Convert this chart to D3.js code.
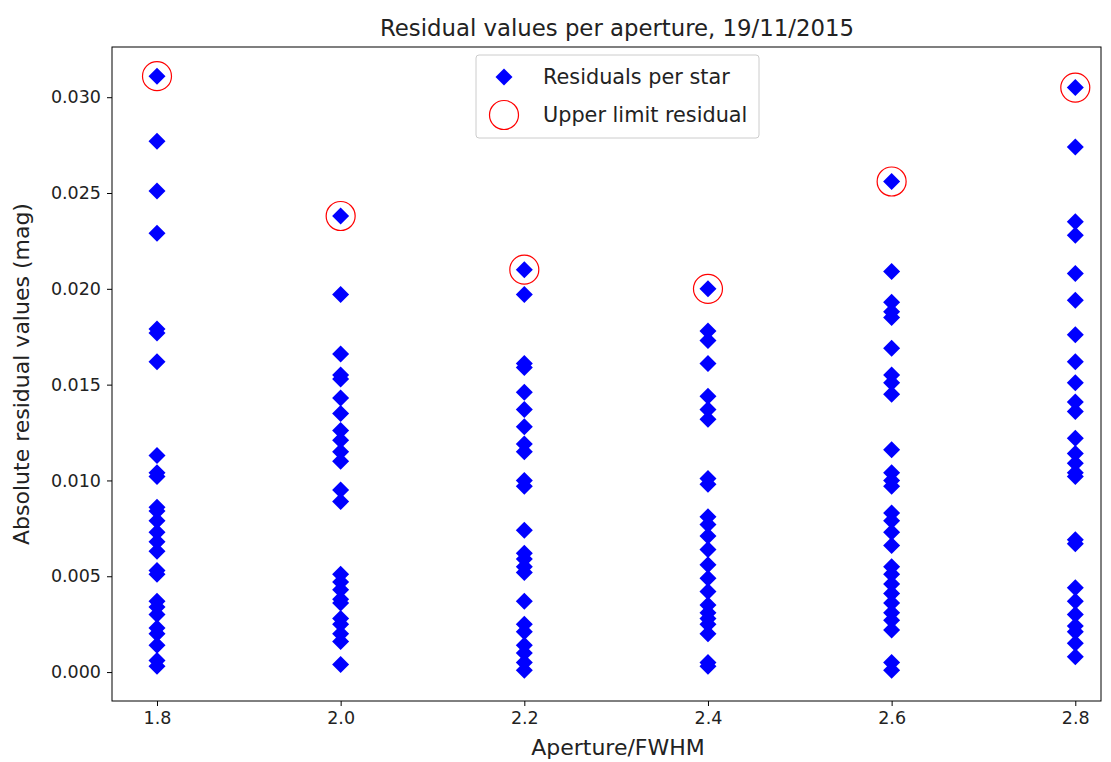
<!DOCTYPE html>
<html>
<head>
<meta charset="utf-8">
<script src="https://cdn.jsdelivr.net/npm/d3@7"></script>
<style>
  body { margin: 0; background: #fff; }
  svg { font-family: "DejaVu Sans", sans-serif; }
</style>
</head>
<body>
<svg id="chart" width="1111" height="762"></svg>
<script>
// apertures (x) and absolute residuals per star for each
const apertures = [1.8, 2.0, 2.2, 2.4, 2.6, 2.8];
const res18 = [0.0311, 0.0277, 0.0251, 0.0229, 0.0179, 0.0177, 0.0162, 0.0113, 0.0104, 0.0102, 0.0086, 0.0084, 0.0079, 0.0073, 0.0068, 0.0063, 0.0053, 0.0051, 0.0037, 0.0034, 0.0030, 0.0023, 0.0020, 0.0014, 0.0006, 0.0003];
const res20 = [0.0238, 0.0197, 0.0166, 0.0155, 0.0153, 0.0143, 0.0135, 0.0126, 0.0121, 0.0115, 0.0110, 0.0095, 0.0089, 0.0051, 0.0047, 0.0043, 0.0038, 0.0036, 0.0028, 0.0025, 0.0020, 0.0016, 0.0004];
const res22 = [0.0210, 0.0197, 0.0161, 0.0159, 0.0146, 0.0137, 0.0128, 0.0119, 0.0115, 0.0100, 0.0097, 0.0074, 0.0062, 0.0059, 0.0055, 0.0052, 0.0037, 0.0025, 0.0021, 0.0014, 0.0010, 0.0005, 0.0001];
const res24 = [0.0200, 0.0178, 0.0173, 0.0161, 0.0144, 0.0137, 0.0132, 0.0101, 0.0098, 0.0081, 0.0077, 0.0071, 0.0064, 0.0056, 0.0049, 0.0042, 0.0035, 0.0031, 0.0028, 0.0025, 0.0020, 0.0005, 0.0003];
const res26 = [0.0256, 0.0209, 0.0193, 0.0188, 0.0185, 0.0169, 0.0155, 0.0151, 0.0145, 0.0116, 0.0104, 0.0100, 0.0097, 0.0083, 0.0079, 0.0073, 0.0066, 0.0055, 0.0051, 0.0046, 0.0041, 0.0036, 0.0031, 0.0027, 0.0022, 0.0005, 0.0001];
const res28 = [0.0305, 0.0274, 0.0235, 0.0228, 0.0208, 0.0194, 0.0176, 0.0162, 0.0151, 0.0141, 0.0136, 0.0122, 0.0114, 0.0109, 0.0104, 0.0102, 0.0069, 0.0067, 0.0044, 0.0037, 0.0030, 0.0024, 0.0021, 0.0015, 0.0008];
const residuals = [res18, res20, res22, res24, res26, res28];
const yTicks = [0, 0.005, 0.010, 0.015, 0.020, 0.025, 0.030];

const margin = { left: 112, right: 10, top: 47, bottom: 61 };
const width = 1111 - margin.left - margin.right;
const height = 762 - margin.top - margin.bottom;

const svg = d3.select("#chart");
const g = svg.append("g")
  .attr("transform", "translate(" + margin.left + "," + margin.top + ")");

const x = d3.scaleLinear().domain([1.751, 2.828]).range([0, width]);
const y = d3.scaleLinear().domain([-0.00151, 0.03262]).range([height, 0]);

// points flattened
const points = [];
apertures.forEach((a, i) => residuals[i].forEach(v => points.push({ a: a, v: v })));
const upper = apertures.map((a, i) => ({ a: a, v: d3.max(residuals[i]) }));

// axes
const xAxis = g.append("g")
  .attr("transform", "translate(0," + height + ")")
  .call(d3.axisBottom(x).tickValues(apertures).tickFormat(d3.format(".1f")).tickSizeOuter(0).tickSize(5).tickPadding(6));
const yAxis = g.append("g")
  .call(d3.axisLeft(y).tickValues(yTicks).tickFormat(d3.format(".3f")).tickSizeOuter(0).tickSize(5).tickPadding(6));
[xAxis, yAxis].forEach(ax => {
  ax.select(".domain").remove();
  ax.selectAll("line").attr("stroke", "#000");
  ax.selectAll("text").attr("font-size", 17.5).attr("fill", "#222").attr("font-family", "DejaVu Sans, sans-serif");
});

// frame
g.append("rect")
  .attr("width", width).attr("height", height)
  .attr("fill", "none").attr("stroke", "#000").attr("stroke-width", 1);

const diamond = "M0,-8.5L8.5,0L0,8.5L-8.5,0Z";

g.selectAll("path.pt")
  .data(points)
  .enter()
  .append("path")
  .attr("class", "pt")
  .attr("d", diamond)
  .attr("transform", d => "translate(" + x(d.a) + "," + y(d.v) + ")")
  .attr("fill", "#0000ff");

g.selectAll("circle.up")
  .data(upper)
  .enter()
  .append("circle")
  .attr("class", "up")
  .attr("cx", d => x(d.a))
  .attr("cy", d => y(d.v))
  .attr("r", 14.5)
  .attr("fill", "none")
  .attr("stroke", "#ff0000")
  .attr("stroke-width", 1.2);

// legend
const lg = svg.append("g").attr("transform", "translate(476,55)");
lg.append("rect")
  .attr("width", 283).attr("height", 83).attr("rx", 3)
  .attr("fill", "#fff").attr("fill-opacity", 0.8)
  .attr("stroke", "#ccc");
lg.append("path").attr("d", diamond).attr("transform", "translate(28,22)").attr("fill", "#0000ff");
lg.append("circle").attr("cx", 28).attr("cy", 60).attr("r", 14.5)
  .attr("fill", "none").attr("stroke", "#ff0000").attr("stroke-width", 1.2);
lg.append("text").attr("x", 67).attr("y", 29).attr("font-size", 20.8).attr("fill", "#222").text("Residuals per star");
lg.append("text").attr("x", 67).attr("y", 67).attr("font-size", 20.8).attr("fill", "#222").text("Upper limit residual");

// titles
svg.append("text")
  .attr("x", 617).attr("y", 36)
  .attr("text-anchor", "middle").attr("font-size", 22.8).attr("fill", "#222")
  .text("Residual values per aperture, 19/11/2015");
svg.append("text")
  .attr("x", 618).attr("y", 755)
  .attr("text-anchor", "middle").attr("font-size", 22).attr("fill", "#222")
  .text("Aperture/FWHM");
svg.append("text")
  .attr("transform", "translate(29," + 374 + ") rotate(-90)")
  .attr("text-anchor", "middle").attr("font-size", 22).attr("fill", "#222")
  .text("Absolute residual values (mag)");
</script>
</body>
</html>
